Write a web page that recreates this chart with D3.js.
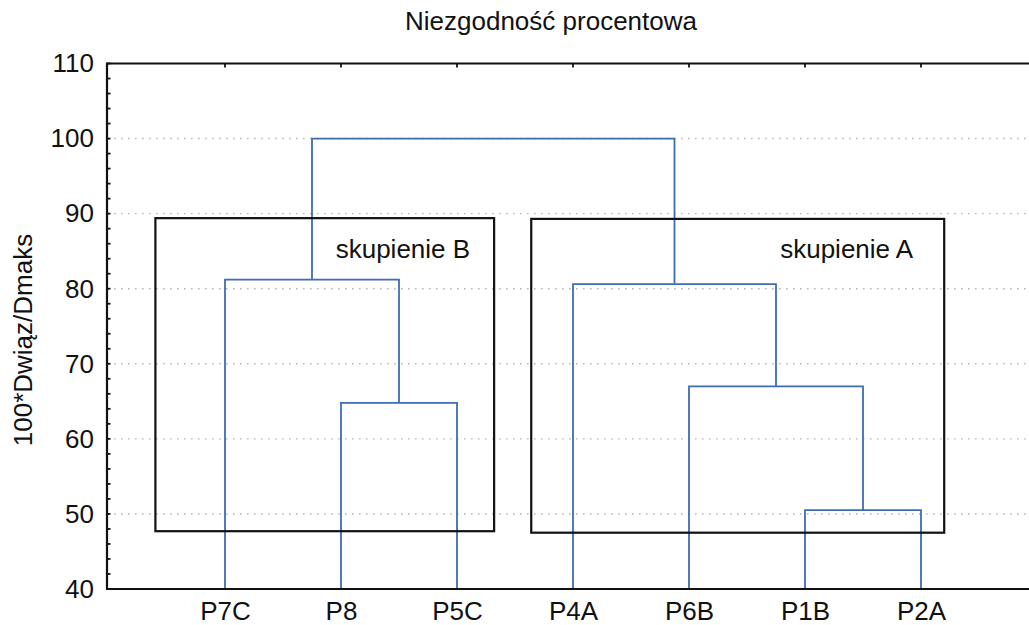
<!DOCTYPE html>
<html>
<head>
<meta charset="utf-8">
<script src="https://cdn.jsdelivr.net/npm/d3@7"></script>
<style>
  html, body { margin: 0; padding: 0; background: #fff; }
  svg { display: block; font-family: "Liberation Sans", Arial, sans-serif; }
</style>
</head>
<body>
<svg id="chart" width="1029" height="625"></svg>
<script>
// Leaf order along the horizontal axis
const leaves = ["P7C", "P8", "P5C", "P4A", "P6B", "P1B", "P2A"];

// Agglomeration steps: [left member, right member, linkage height]
const merges = [
  ["P1B", "P2A", 50.5],
  ["P8", "P5C", 64.8],
  ["P6B", "P1B+P2A", 67.0],
  ["P4A", "P6B+P1B+P2A", 80.6],
  ["P7C", "P8+P5C", 81.2],
  ["P7C+P8+P5C", "P4A+P6B+P1B+P2A", 100]
];

// Y axis ticks
const yMajorTicks = [40, 50, 60, 70, 80, 90, 100, 110];
const yGridLines = [50, 60, 70, 80, 90, 100];

// Cluster frames: caption, left/right edge (in leaf index units), top/bottom (in axis units)
const clusterNames = ["skupienie B", "skupienie A"];
const clusterLeft = [-0.6, 2.64];
const clusterRight = [2.32, 6.2];
const clusterTop = [89.4, 89.3];
const clusterBottom = [47.7, 47.5];

const titleText = "Niezgodność procentowa";
const yLabelText = "100*Dwiąz/Dmaks";

const svg = d3.select("#chart");
const plotLeft = 107, plotTop = 63.5, plotBottom = 589, plotRight = 1045;
const fontSize = 26;

const x = d3.scaleLinear().domain([0, leaves.length - 1]).range([225, 921]);
const y = d3.scaleLinear().domain([40, 110]).range([plotBottom, plotTop]);

// Dotted grid
svg.append("g").selectAll("line").data(yGridLines).join("line")
  .attr("x1", plotLeft).attr("x2", plotRight)
  .attr("y1", d => y(d)).attr("y2", d => y(d))
  .attr("stroke", "#b9b9ad").attr("stroke-width", 1.4)
  .attr("stroke-dasharray", "1.6 5.4");

// Build the dendrogram geometry from the merge list
const nodes = {};
leaves.forEach((l, i) => nodes[l] = { x: x(i), h: 40 });
const links = [];
merges.forEach(([a, b, h]) => {
  const A = nodes[a], B = nodes[b];
  links.push({ x1: A.x, h1: A.h, x2: B.x, h2: B.h, h });
  nodes[a + "+" + b] = { x: (A.x + B.x) / 2, h };
});

const dendro = svg.append("g")
  .attr("fill", "none").attr("stroke", "#3f6db3").attr("stroke-width", 1.8);
dendro.selectAll("path").data(links).join("path")
  .attr("d", d => `M${d.x1},${y(d.h1)}V${y(d.h)}H${d.x2}V${y(d.h2)}`);

// Cluster frames and their captions
const clusters = clusterNames.map((n, i) => ({
  name: n, l: clusterLeft[i], r: clusterRight[i], t: clusterTop[i], b: clusterBottom[i]
}));
const boxes = svg.append("g");
boxes.selectAll("rect").data(clusters).join("rect")
  .attr("x", d => x(d.l)).attr("y", d => y(d.t))
  .attr("width", d => x(d.r) - x(d.l)).attr("height", d => y(d.b) - y(d.t))
  .attr("fill", "none").attr("stroke", "#111").attr("stroke-width", 2.2);
boxes.selectAll("text").data(clusters).join("text")
  .attr("x", (d, i) => x(d.r) - (i === 0 ? 24 : 31))
  .attr("y", 258)
  .attr("text-anchor", "end")
  .attr("font-size", fontSize).attr("fill", "#111")
  .text(d => d.name);

// Frame
svg.append("path")
  .attr("d", `M${plotRight},${plotTop}H${plotLeft}V${plotBottom}H${plotRight}`)
  .attr("fill", "none").attr("stroke", "#111").attr("stroke-width", 2.2);

// Left axis: labels and inward ticks every 2 units
const yAxis = d3.axisLeft(y).tickValues(yMajorTicks).tickSize(0).tickPadding(13);
const gy = svg.append("g").attr("transform", `translate(${plotLeft},0)`).call(yAxis);
gy.select(".domain").remove();
gy.selectAll("text").attr("font-size", fontSize).attr("fill", "#111")
  .attr("font-family", "Liberation Sans, Arial, sans-serif");
svg.append("g").selectAll("line").data(d3.range(40, 111, 2)).join("line")
  .attr("x1", plotLeft).attr("x2", plotLeft + 3.5)
  .attr("y1", d => y(d)).attr("y2", d => y(d))
  .attr("stroke", "#111").attr("stroke-width", 1.8);

// Category axis along the bottom
const xAxis = d3.axisBottom(x).tickValues(d3.range(leaves.length))
  .tickFormat(i => leaves[i]).tickSize(0).tickPadding(13);
const gx = svg.append("g").attr("transform", `translate(0,${plotBottom})`).call(xAxis);
gx.select(".domain").remove();
gx.selectAll("text").attr("font-size", fontSize).attr("fill", "#111")
  .attr("font-family", "Liberation Sans, Arial, sans-serif");

// Small inward ticks on the top edge
svg.append("g").selectAll("line").data(d3.range(leaves.length)).join("line")
  .attr("x1", d => x(d)).attr("x2", d => x(d))
  .attr("y1", plotTop).attr("y2", plotTop + 4)
  .attr("stroke", "#111").attr("stroke-width", 1.8);

// Title and axis label
svg.append("text").attr("x", 551).attr("y", 30)
  .attr("text-anchor", "middle").attr("font-size", fontSize).attr("fill", "#111")
  .text(titleText);
svg.append("text")
  .attr("transform", "translate(32,340) rotate(-90)")
  .attr("text-anchor", "middle").attr("font-size", fontSize).attr("fill", "#111")
  .text(yLabelText);
</script>
</body>
</html>
